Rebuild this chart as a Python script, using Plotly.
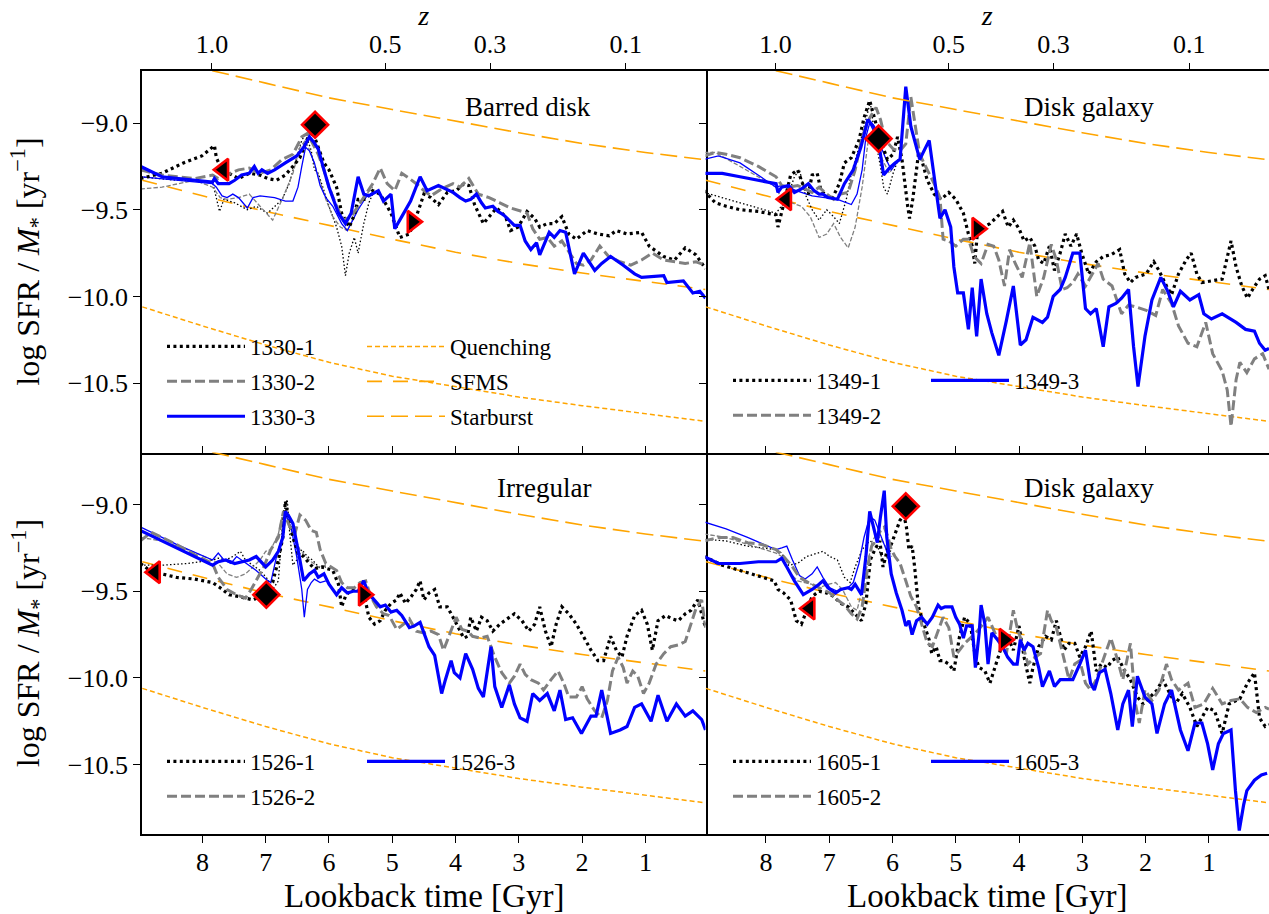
import plotly.graph_objects as go

# ---------------- reference relations: (lookback time [Gyr], log sSFR) ----------------
starburst_pts = [(8.95, -8.60), (8.0, -8.685), (7.0, -8.77), (6.0, -8.855), (5.0, -8.922), (4.0, -8.99),
                 (3.0, -9.056), (2.0, -9.118), (1.0, -9.17), (0.05, -9.212)]
sfms_pts = [(8.95, -9.33), (8.0, -9.42), (7.0, -9.51), (6.0, -9.59), (5.0, -9.67), (4.0, -9.745),
            (3.0, -9.81), (2.0, -9.865), (1.0, -9.912), (0.05, -9.96)]
quench_pts = [(8.95, -10.06), (8.0, -10.17), (7.0, -10.28), (6.0, -10.38), (5.0, -10.46), (4.0, -10.52),
              (3.0, -10.58), (2.0, -10.63), (1.0, -10.675), (0.05, -10.72)]

# ---------------- galaxy 1330 (Barred disk) ----------------
g1330_1 = [(8.98,-9.32),(8.64,-9.29),(8.30,-9.23),(8.01,-9.19),(7.81,-9.13),(7.78,-9.20),(7.72,-9.25),(7.58,-9.29),(7.43,-9.32),(7.26,-9.29),(7.09,-9.30),(6.97,-9.32),(6.83,-9.33),(6.69,-9.30),(6.57,-9.25),(6.46,-9.20),(6.34,-9.09),(6.26,-9.05),(6.17,-9.14),(6.08,-9.23),(6.00,-9.27),(5.88,-9.37),(5.80,-9.52),(5.68,-9.60),(5.60,-9.53),(5.54,-9.44),(5.42,-9.44),(5.31,-9.39),(5.19,-9.41),(5.14,-9.44),(5.02,-9.52),(4.88,-9.66),(4.73,-9.64),(4.62,-9.54),(4.50,-9.41),(4.39,-9.43),(4.27,-9.47),(4.13,-9.40),(3.99,-9.39),(3.87,-9.35),(3.79,-9.36),(3.70,-9.47),(3.56,-9.58),(3.47,-9.54),(3.35,-9.49),(3.21,-9.54),(3.13,-9.62),(3.01,-9.60),(2.87,-9.51),(2.75,-9.55),(2.67,-9.60),(2.55,-9.58),(2.44,-9.58),(2.32,-9.54),(2.21,-9.64),(2.09,-9.67),(1.92,-9.62),(1.75,-9.64),(1.57,-9.65),(1.46,-9.62),(1.29,-9.64),(1.06,-9.63),(0.94,-9.71),(0.71,-9.77),(0.54,-9.79),(0.37,-9.72),(0.20,-9.76),(0.05,-9.84)]
g1330_2 = [(8.98,-9.27),(8.64,-9.30),(8.12,-9.32),(7.84,-9.30),(7.75,-9.32),(7.61,-9.30),(7.43,-9.27),(7.26,-9.26),(7.09,-9.29),(6.92,-9.27),(6.74,-9.21),(6.57,-9.18),(6.43,-9.08),(6.34,-9.06),(6.26,-9.12),(6.17,-9.18),(6.08,-9.27),(6.00,-9.37),(5.88,-9.48),(5.77,-9.56),(5.65,-9.54),(5.54,-9.48),(5.42,-9.41),(5.31,-9.35),(5.19,-9.26),(5.08,-9.35),(4.96,-9.39),(4.85,-9.29),(4.73,-9.32),(4.62,-9.35),(4.50,-9.39),(4.39,-9.42),(4.22,-9.38),(4.04,-9.35),(3.93,-9.37),(3.79,-9.32),(3.64,-9.41),(3.47,-9.43),(3.30,-9.46),(3.13,-9.49),(2.95,-9.51),(2.87,-9.52),(2.78,-9.61),(2.67,-9.67),(2.55,-9.66),(2.44,-9.71),(2.32,-9.68),(2.21,-9.74),(2.09,-9.81),(1.98,-9.82),(1.86,-9.79),(1.72,-9.71),(1.58,-9.77),(1.40,-9.80),(1.23,-9.82),(1.06,-9.79),(0.89,-9.75),(0.71,-9.79),(0.54,-9.80),(0.37,-9.81),(0.20,-9.80),(0.05,-9.82)]
g1330_3 = [(8.98,-9.25),(8.64,-9.31),(7.84,-9.34),(7.81,-9.32),(7.75,-9.35),(7.58,-9.35),(7.49,-9.33),(7.38,-9.30),(7.26,-9.29),(7.18,-9.25),(7.12,-9.29),(7.06,-9.27),(6.97,-9.29),(6.86,-9.27),(6.69,-9.23),(6.51,-9.19),(6.40,-9.14),(6.31,-9.08),(6.24,-9.11),(6.17,-9.15),(6.08,-9.27),(6.00,-9.37),(5.85,-9.52),(5.74,-9.58),(5.65,-9.52),(5.54,-9.31),(5.45,-9.41),(5.37,-9.42),(5.22,-9.39),(5.14,-9.45),(5.02,-9.41),(4.96,-9.61),(4.85,-9.54),(4.71,-9.45),(4.56,-9.31),(4.45,-9.39),(4.27,-9.36),(4.16,-9.38),(4.04,-9.40),(3.93,-9.43),(3.84,-9.45),(3.76,-9.44),(3.67,-9.41),(3.59,-9.46),(3.53,-9.49),(3.41,-9.48),(3.33,-9.51),(3.24,-9.53),(3.15,-9.56),(3.07,-9.59),(2.98,-9.59),(2.90,-9.68),(2.81,-9.73),(2.72,-9.69),(2.67,-9.76),(2.52,-9.63),(2.44,-9.66),(2.35,-9.62),(2.26,-9.63),(2.12,-9.87),(1.98,-9.75),(1.80,-9.85),(1.69,-9.81),(1.55,-9.77),(1.35,-9.82),(1.17,-9.87),(1.06,-9.89),(0.71,-9.88),(0.66,-9.92),(0.40,-9.91),(0.25,-9.98),(0.14,-9.97),(0.05,-10.01)]
g1330_1_hr = [(8.98,-9.31),(8.41,-9.33),(7.84,-9.34),(7.78,-9.44),(7.73,-9.51),(7.66,-9.44),(7.49,-9.46),(7.29,-9.50),(7.15,-9.48),(6.97,-9.52),(6.86,-9.48),(6.74,-9.44),(6.63,-9.35),(6.51,-9.20),(6.43,-9.10),(6.37,-9.06),(6.28,-9.16),(6.23,-9.27),(6.17,-9.29),(6.08,-9.39),(6.00,-9.48),(5.88,-9.60),(5.80,-9.71),(5.74,-9.88),(5.68,-9.75),(5.60,-9.66),(5.54,-9.75),(5.45,-9.58),(5.37,-9.46),(5.31,-9.41)]
g1330_2_hr = [(8.98,-9.38),(8.64,-9.37),(8.12,-9.33),(7.84,-9.37),(7.72,-9.43),(7.61,-9.44),(7.43,-9.43),(7.26,-9.41),(7.09,-9.48),(6.89,-9.56),(6.74,-9.44),(6.57,-9.29),(6.46,-9.14),(6.37,-9.10),(6.28,-9.18),(6.17,-9.31),(6.05,-9.44),(5.94,-9.54),(5.82,-9.60),(5.71,-9.62),(5.60,-9.54),(5.48,-9.44),(5.31,-9.37)]
g1330_3_hr = [(8.98,-9.31),(8.41,-9.33),(7.84,-9.35),(7.78,-9.37),(7.69,-9.42),(7.61,-9.43),(7.52,-9.41),(7.43,-9.43),(7.29,-9.49),(7.20,-9.43),(7.09,-9.42),(6.86,-9.43),(6.69,-9.45),(6.57,-9.45),(6.49,-9.37),(6.43,-9.25),(6.37,-9.14),(6.31,-9.16),(6.23,-9.23),(6.14,-9.36),(6.05,-9.43),(5.94,-9.48),(5.80,-9.58),(5.71,-9.62),(5.65,-9.58),(5.54,-9.50),(5.42,-9.43),(5.31,-9.40)]
events_1330 = [(7.67, -9.27), (6.22, -9.01), (4.68, -9.57)]

# ---------------- galaxy 1349 (Disk galaxy) ----------------
g1349_1 = [(8.98,-9.39),(8.80,-9.46),(8.63,-9.48),(8.41,-9.50),(8.12,-9.51),(7.84,-9.53),(7.81,-9.60),(7.75,-9.52),(7.70,-9.44),(7.61,-9.30),(7.50,-9.27),(7.41,-9.36),(7.33,-9.41),(7.27,-9.30),(7.19,-9.29),(7.13,-9.39),(7.04,-9.42),(6.96,-9.44),(6.84,-9.35),(6.76,-9.23),(6.65,-9.20),(6.53,-9.10),(6.45,-8.97),(6.36,-8.87),(6.28,-8.98),(6.19,-9.10),(6.08,-9.21),(5.99,-9.18),(5.92,-9.08),(5.85,-9.21),(5.76,-9.48),(5.73,-9.55),(5.68,-9.44),(5.59,-9.18),(5.54,-9.21),(5.45,-9.33),(5.34,-9.41),(5.23,-9.44),(5.11,-9.40),(5.00,-9.44),(4.88,-9.52),(4.80,-9.64),(4.74,-9.71),(4.70,-9.81),(4.66,-9.64),(4.57,-9.60),(4.46,-9.58),(4.37,-9.55),(4.26,-9.51),(4.17,-9.60),(4.09,-9.56),(4.00,-9.61),(3.92,-9.68),(3.83,-9.66),(3.75,-9.71),(3.69,-9.79),(3.61,-9.81),(3.52,-9.71),(3.44,-9.85),(3.35,-9.75),(3.27,-9.64),(3.18,-9.71),(3.09,-9.64),(3.01,-9.75),(2.90,-9.87),(2.78,-9.80),(2.67,-9.77),(2.55,-9.76),(2.41,-9.73),(2.33,-9.87),(2.24,-9.92),(2.16,-9.89),(1.99,-9.87),(1.87,-9.80),(1.79,-9.85),(1.67,-9.94),(1.59,-9.99),(1.48,-9.87),(1.36,-9.79),(1.28,-9.75),(1.19,-9.87),(1.11,-9.92),(0.96,-9.91),(0.79,-9.90),(0.65,-9.68),(0.57,-9.83),(0.48,-9.94),(0.39,-10.01),(0.31,-9.96),(0.20,-9.90),(0.11,-9.88),(0.05,-9.96)]
g1349_2 = [(8.98,-9.19),(8.80,-9.17),(8.63,-9.18),(8.41,-9.20),(8.12,-9.25),(7.84,-9.31),(7.75,-9.36),(7.64,-9.37),(7.50,-9.36),(7.38,-9.38),(7.27,-9.40),(7.16,-9.37),(7.04,-9.41),(6.93,-9.44),(6.82,-9.41),(6.70,-9.40),(6.59,-9.27),(6.48,-9.08),(6.36,-8.97),(6.26,-8.91),(6.19,-8.98),(6.11,-9.10),(5.99,-9.15),(5.88,-9.16),(5.79,-9.12),(5.71,-8.85),(5.65,-9.00),(5.57,-9.18),(5.45,-9.27),(5.34,-9.35),(5.25,-9.43),(5.20,-9.67),(5.11,-9.68),(5.00,-9.71),(4.88,-9.67),(4.80,-9.67),(4.71,-9.77),(4.60,-9.81),(4.49,-9.70),(4.40,-9.71),(4.32,-9.79),(4.23,-9.94),(4.15,-9.73),(4.06,-9.81),(3.95,-9.89),(3.83,-9.69),(3.72,-10.00),(3.61,-9.89),(3.49,-9.70),(3.41,-9.79),(3.32,-9.96),(3.24,-9.95),(3.15,-9.92),(3.07,-9.87),(2.95,-9.94),(2.84,-9.87),(2.75,-9.81),(2.67,-9.90),(2.53,-9.94),(2.38,-10.10),(2.27,-10.05),(2.16,-10.06),(1.99,-10.08),(1.84,-10.11),(1.73,-9.96),(1.59,-10.04),(1.48,-10.17),(1.33,-10.27),(1.19,-10.29),(1.05,-10.15),(0.94,-10.33),(0.79,-10.43),(0.71,-10.54),(0.65,-10.75),(0.57,-10.48),(0.51,-10.38),(0.40,-10.44),(0.28,-10.36),(0.15,-10.33),(0.05,-10.42)]
g1349_3 = [(8.98,-9.29),(8.69,-9.29),(8.41,-9.31),(8.12,-9.33),(7.84,-9.35),(7.81,-9.40),(7.75,-9.37),(7.64,-9.36),(7.55,-9.40),(7.44,-9.38),(7.33,-9.35),(7.24,-9.39),(7.16,-9.41),(7.10,-9.41),(7.02,-9.43),(6.87,-9.44),(6.76,-9.35),(6.62,-9.27),(6.50,-9.14),(6.39,-8.98),(6.30,-9.02),(6.22,-9.11),(6.14,-9.30),(6.05,-9.26),(5.96,-9.23),(5.88,-9.21),(5.79,-8.79),(5.71,-9.02),(5.65,-9.10),(5.57,-9.21),(5.42,-9.10),(5.34,-9.31),(5.25,-9.55),(5.17,-9.50),(5.08,-9.60),(5.03,-9.83),(4.97,-9.98),(4.88,-9.98),(4.80,-10.19),(4.74,-9.95),(4.67,-10.23),(4.60,-9.90),(4.51,-10.10),(4.43,-10.21),(4.32,-10.34),(4.20,-10.14),(4.09,-9.94),(3.98,-10.28),(3.89,-10.25),(3.78,-10.12),(3.63,-10.15),(3.55,-10.12),(3.46,-10.00),(3.35,-9.96),(3.27,-9.89),(3.15,-9.75),(3.04,-9.75),(2.95,-10.07),(2.87,-10.10),(2.78,-10.07),(2.67,-10.29),(2.58,-10.06),(2.47,-10.04),(2.38,-10.01),(2.27,-9.96),(2.19,-10.29),(2.12,-10.52),(2.01,-10.23),(1.90,-10.02),(1.76,-9.89),(1.65,-9.97),(1.56,-10.06),(1.45,-9.97),(1.30,-10.02),(1.16,-9.99),(1.08,-10.10),(0.96,-10.13),(0.79,-10.10),(0.57,-10.15),(0.42,-10.19),(0.28,-10.20),(0.20,-10.27),(0.11,-10.31),(0.05,-10.30)]
g1349_1_hr = [(8.98,-9.40),(8.41,-9.46),(7.84,-9.52),(7.67,-9.44),(7.55,-9.31),(7.47,-9.27),(7.38,-9.41),(7.27,-9.50),(7.16,-9.56),(7.04,-9.50),(6.93,-9.54),(6.84,-9.58),(6.73,-9.44),(6.65,-9.29),(6.53,-9.14),(6.42,-8.98),(6.35,-8.88),(6.28,-9.08),(6.19,-9.25),(6.14,-9.37),(6.08,-9.41),(5.99,-9.29),(5.91,-9.21)]
g1349_2_hr = [(8.98,-9.17),(8.80,-9.17),(8.41,-9.25),(7.84,-9.37),(7.75,-9.44),(7.61,-9.46),(7.44,-9.48),(7.30,-9.54),(7.16,-9.66),(7.04,-9.64),(6.93,-9.58),(6.82,-9.66),(6.70,-9.72),(6.59,-9.60),(6.48,-9.37),(6.39,-9.12),(6.33,-9.06),(6.25,-9.10),(6.16,-9.21),(6.05,-9.29),(5.91,-9.21)]
g1349_3_hr = [(8.98,-9.21),(8.75,-9.19),(8.41,-9.23),(7.84,-9.37),(7.75,-9.36),(7.61,-9.38),(7.44,-9.40),(7.27,-9.42),(7.10,-9.43),(6.87,-9.44),(6.65,-9.47),(6.56,-9.41),(6.48,-9.27),(6.42,-9.08),(6.36,-9.00),(6.28,-9.06),(6.19,-9.13),(6.10,-9.21),(6.02,-9.27),(5.91,-9.22)]
events_1349 = [(7.68, -9.44), (6.22, -9.09), (4.66, -9.61)]

# ---------------- galaxy 1526 (Irregular) ----------------
g1526_1 = [(8.98,-9.34),(8.87,-9.37),(8.64,-9.40),(8.41,-9.42),(8.12,-9.43),(7.84,-9.45),(7.72,-9.48),(7.58,-9.52),(7.43,-9.53),(7.32,-9.54),(7.20,-9.55),(7.09,-9.53),(6.97,-9.49),(6.89,-9.45),(6.80,-9.32),(6.73,-9.19),(6.69,-8.98),(6.63,-9.10),(6.57,-9.19),(6.49,-9.28),(6.40,-9.30),(6.31,-9.34),(6.23,-9.37),(6.11,-9.36),(6.03,-9.37),(5.94,-9.38),(5.85,-9.46),(5.80,-9.59),(5.74,-9.53),(5.65,-9.49),(5.54,-9.49),(5.45,-9.51),(5.37,-9.65),(5.28,-9.69),(5.19,-9.67),(5.11,-9.61),(5.02,-9.57),(4.93,-9.55),(4.88,-9.51),(4.79,-9.57),(4.70,-9.53),(4.62,-9.49),(4.56,-9.44),(4.50,-9.55),(4.42,-9.51),(4.33,-9.49),(4.25,-9.59),(4.13,-9.59),(4.04,-9.65),(3.96,-9.71),(3.87,-9.77),(3.81,-9.76),(3.76,-9.65),(3.67,-9.73),(3.59,-9.65),(3.50,-9.67),(3.41,-9.73),(3.30,-9.69),(3.18,-9.66),(3.07,-9.63),(2.95,-9.67),(2.84,-9.73),(2.75,-9.69),(2.67,-9.59),(2.58,-9.73),(2.49,-9.82),(2.41,-9.69),(2.32,-9.59),(2.21,-9.63),(2.09,-9.69),(1.98,-9.76),(1.86,-9.84),(1.75,-9.90),(1.66,-9.90),(1.55,-9.76),(1.46,-9.84),(1.37,-9.88),(1.29,-9.76),(1.17,-9.64),(1.06,-9.61),(0.97,-9.69),(0.89,-9.84),(0.80,-9.67),(0.68,-9.64),(0.57,-9.66),(0.48,-9.67),(0.37,-9.63),(0.28,-9.61),(0.17,-9.55),(0.05,-9.71)]
g1526_2 = [(8.98,-9.21),(8.81,-9.16),(8.64,-9.19),(8.41,-9.23),(8.12,-9.29),(7.84,-9.34),(7.75,-9.42),(7.61,-9.49),(7.46,-9.52),(7.32,-9.54),(7.23,-9.49),(7.15,-9.44),(7.03,-9.36),(6.92,-9.26),(6.80,-9.19),(6.72,-9.04),(6.63,-9.12),(6.54,-9.17),(6.46,-9.06),(6.37,-9.09),(6.28,-9.15),(6.20,-9.16),(6.14,-9.26),(6.05,-9.34),(5.97,-9.36),(5.88,-9.38),(5.80,-9.45),(5.71,-9.48),(5.60,-9.48),(5.51,-9.45),(5.42,-9.44),(5.34,-9.53),(5.25,-9.59),(5.14,-9.63),(5.05,-9.64),(4.93,-9.72),(4.82,-9.69),(4.73,-9.66),(4.62,-9.73),(4.50,-9.74),(4.39,-9.73),(4.27,-9.75),(4.19,-9.84),(4.07,-9.73),(3.99,-9.65),(3.90,-9.72),(3.81,-9.73),(3.73,-9.76),(3.61,-9.77),(3.50,-9.76),(3.38,-9.88),(3.27,-9.97),(3.15,-10.03),(3.07,-9.99),(2.98,-9.92),(2.90,-9.98),(2.81,-10.01),(2.69,-10.03),(2.61,-10.07),(2.49,-10.01),(2.38,-9.96),(2.29,-10.03),(2.21,-10.11),(2.09,-10.11),(2.00,-10.05),(1.92,-10.12),(1.80,-10.19),(1.69,-10.23),(1.60,-10.13),(1.52,-9.96),(1.43,-9.88),(1.35,-9.94),(1.29,-10.03),(1.20,-9.96),(1.12,-9.99),(1.03,-10.09),(0.94,-10.03),(0.83,-9.92),(0.71,-9.86),(0.60,-9.82),(0.48,-9.81),(0.37,-9.79),(0.28,-9.69),(0.20,-9.60),(0.11,-9.55),(0.05,-9.71)]
g1526_3 = [(8.98,-9.15),(8.41,-9.25),(7.84,-9.35),(7.75,-9.33),(7.63,-9.32),(7.49,-9.34),(7.38,-9.33),(7.26,-9.32),(7.15,-9.30),(7.00,-9.36),(6.89,-9.32),(6.80,-9.27),(6.73,-9.19),(6.69,-9.04),(6.63,-9.07),(6.57,-9.11),(6.49,-9.26),(6.40,-9.44),(6.31,-9.40),(6.23,-9.38),(6.17,-9.42),(6.08,-9.40),(6.00,-9.46),(5.88,-9.52),(5.80,-9.48),(5.71,-9.51),(5.62,-9.50),(5.54,-9.50),(5.45,-9.44),(5.39,-9.50),(5.31,-9.54),(5.19,-9.59),(5.11,-9.58),(5.02,-9.62),(4.93,-9.61),(4.85,-9.64),(4.73,-9.71),(4.65,-9.70),(4.56,-9.68),(4.50,-9.74),(4.42,-9.82),(4.33,-9.87),(4.22,-10.09),(4.16,-10.01),(4.07,-9.90),(4.02,-9.97),(3.93,-10.00),(3.84,-9.86),(3.73,-9.95),(3.64,-10.06),(3.56,-10.11),(3.44,-9.82),(3.38,-10.05),(3.27,-10.17),(3.15,-10.04),(3.07,-10.15),(2.98,-10.23),(2.87,-10.25),(2.78,-10.09),(2.67,-10.13),(2.55,-10.09),(2.44,-10.19),(2.35,-10.07),(2.26,-10.24),(2.15,-10.23),(2.01,-10.32),(1.86,-10.22),(1.78,-10.22),(1.69,-10.07),(1.55,-10.32),(1.40,-10.30),(1.29,-10.28),(1.17,-10.17),(1.06,-10.15),(0.91,-10.25),(0.80,-10.10),(0.66,-10.25),(0.51,-10.15),(0.37,-10.22),(0.25,-10.19),(0.11,-10.24),(0.05,-10.30)]
g1526_1_hr = [(8.98,-9.35),(8.64,-9.35),(8.24,-9.34),(7.84,-9.32),(7.75,-9.31),(7.63,-9.32),(7.52,-9.30),(7.40,-9.27),(7.32,-9.32),(7.20,-9.35),(7.09,-9.38),(6.97,-9.43),(6.89,-9.49),(6.80,-9.44),(6.72,-9.05),(6.66,-8.97),(6.62,-9.17),(6.57,-9.35),(6.51,-9.32),(6.43,-9.26),(6.34,-9.30),(6.26,-9.32),(6.14,-9.37),(6.05,-9.36)]
g1526_2_hr = [(8.98,-9.19),(8.64,-9.21),(8.24,-9.26),(7.84,-9.32),(7.75,-9.34),(7.61,-9.40),(7.46,-9.42),(7.32,-9.40),(7.20,-9.36),(7.09,-9.32),(7.00,-9.27),(6.92,-9.26),(6.80,-9.17),(6.72,-9.03),(6.63,-9.11),(6.54,-9.19),(6.46,-9.26),(6.37,-9.30),(6.28,-9.33),(6.17,-9.36),(6.05,-9.35)]
g1526_3_hr = [(8.98,-9.13),(8.41,-9.23),(7.84,-9.32),(7.75,-9.28),(7.66,-9.32),(7.55,-9.34),(7.46,-9.30),(7.38,-9.32),(7.26,-9.35),(7.15,-9.38),(7.00,-9.43),(6.92,-9.45),(6.83,-9.30),(6.74,-9.19),(6.69,-9.05),(6.60,-9.13),(6.51,-9.30),(6.43,-9.49),(6.39,-9.65),(6.34,-9.49),(6.28,-9.45),(6.23,-9.43),(6.14,-9.45),(6.05,-9.44)]
events_1526 = [(8.75, -9.39), (6.99, -9.52), (5.45, -9.52)]

# ---------------- galaxy 1605 (Disk galaxy) ----------------
g1605_1 = [(8.98,-9.30),(8.69,-9.35),(8.41,-9.38),(8.12,-9.41),(7.87,-9.44),(7.81,-9.49),(7.72,-9.51),(7.61,-9.55),(7.52,-9.67),(7.44,-9.69),(7.36,-9.61),(7.27,-9.53),(7.16,-9.50),(7.04,-9.51),(6.93,-9.53),(6.82,-9.57),(6.70,-9.59),(6.59,-9.63),(6.49,-9.67),(6.42,-9.57),(6.35,-9.32),(6.28,-9.26),(6.20,-9.21),(6.15,-9.36),(6.08,-9.26),(6.02,-9.23),(5.94,-9.15),(5.88,-9.09),(5.82,-9.06),(5.78,-9.13),(5.74,-9.26),(5.69,-9.24),(5.65,-9.36),(5.59,-9.59),(5.54,-9.65),(5.48,-9.71),(5.42,-9.78),(5.38,-9.86),(5.31,-9.82),(5.25,-9.90),(5.20,-9.90),(5.11,-9.92),(5.03,-9.96),(4.94,-9.76),(4.86,-9.65),(4.77,-9.69),(4.69,-9.88),(4.63,-9.94),(4.54,-9.96),(4.46,-10.03),(4.37,-9.92),(4.26,-9.80),(4.18,-9.76),(4.09,-9.84),(4.00,-9.70),(3.92,-9.88),(3.83,-10.03),(3.78,-9.94),(3.69,-9.82),(3.58,-9.76),(3.49,-9.78),(3.41,-9.67),(3.29,-9.84),(3.21,-9.80),(3.12,-9.80),(3.04,-9.88),(2.95,-9.82),(2.86,-9.73),(2.78,-9.96),(2.70,-9.92),(2.61,-9.94),(2.53,-9.90),(2.44,-9.88),(2.33,-9.96),(2.24,-10.01),(2.13,-10.11),(2.04,-10.15),(1.93,-10.11),(1.82,-10.07),(1.73,-10.01),(1.65,-10.07),(1.53,-10.15),(1.42,-10.09),(1.30,-10.17),(1.19,-10.28),(1.11,-10.23),(1.02,-10.17),(0.91,-10.19),(0.79,-10.32),(0.68,-10.15),(0.51,-10.12),(0.39,-10.03),(0.28,-9.97),(0.20,-10.23),(0.11,-10.28),(0.05,-10.27)]
g1605_2 = [(8.98,-9.21),(8.75,-9.19),(8.52,-9.19),(8.29,-9.22),(8.07,-9.23),(7.84,-9.26),(7.72,-9.30),(7.58,-9.36),(7.47,-9.42),(7.33,-9.45),(7.16,-9.48),(6.99,-9.51),(6.87,-9.55),(6.76,-9.58),(6.65,-9.63),(6.56,-9.66),(6.48,-9.59),(6.39,-9.36),(6.33,-9.24),(6.26,-9.21),(6.19,-9.15),(6.13,-9.13),(6.07,-9.19),(6.02,-9.26),(5.96,-9.30),(5.88,-9.34),(5.79,-9.44),(5.71,-9.53),(5.62,-9.59),(5.54,-9.69),(5.45,-9.80),(5.37,-9.82),(5.28,-9.73),(5.20,-9.65),(5.11,-9.71),(5.03,-9.88),(4.94,-9.84),(4.86,-9.80),(4.74,-9.76),(4.66,-9.73),(4.57,-9.69),(4.49,-9.65),(4.37,-9.75),(4.29,-9.80),(4.20,-9.86),(4.09,-9.61),(4.03,-9.71),(3.95,-9.80),(3.86,-9.92),(3.75,-9.88),(3.66,-9.86),(3.55,-9.61),(3.49,-9.67),(3.41,-9.71),(3.29,-9.88),(3.21,-10.01),(3.12,-9.92),(3.04,-9.90),(2.95,-10.03),(2.87,-10.07),(2.78,-10.01),(2.67,-9.90),(2.55,-9.77),(2.44,-9.90),(2.36,-10.01),(2.24,-9.80),(2.16,-10.15),(2.10,-10.26),(2.01,-10.07),(1.90,-10.13),(1.79,-10.07),(1.67,-9.92),(1.59,-10.01),(1.48,-10.07),(1.33,-10.03),(1.22,-10.17),(1.08,-10.15),(0.94,-10.06),(0.79,-10.15),(0.65,-10.13),(0.51,-10.12),(0.39,-10.17),(0.25,-10.20),(0.11,-10.17),(0.05,-10.18)]
g1605_3 = [(8.98,-9.30),(8.75,-9.34),(8.41,-9.34),(8.12,-9.33),(7.84,-9.33),(7.75,-9.31),(7.67,-9.36),(7.55,-9.44),(7.41,-9.52),(7.27,-9.49),(7.16,-9.46),(7.10,-9.44),(7.02,-9.48),(6.90,-9.51),(6.82,-9.49),(6.70,-9.48),(6.65,-9.49),(6.59,-9.46),(6.49,-9.52),(6.42,-9.30),(6.36,-9.04),(6.30,-9.13),(6.24,-9.22),(6.19,-9.07),(6.13,-8.92),(6.09,-9.19),(6.02,-9.40),(5.94,-9.51),(5.85,-9.61),(5.79,-9.70),(5.74,-9.67),(5.69,-9.75),(5.62,-9.67),(5.54,-9.65),(5.45,-9.69),(5.37,-9.65),(5.28,-9.58),(5.23,-9.60),(5.17,-9.59),(5.06,-9.59),(5.00,-9.65),(4.94,-9.69),(4.88,-9.77),(4.83,-9.70),(4.74,-9.70),(4.69,-9.94),(4.63,-9.74),(4.60,-9.58),(4.54,-9.69),(4.49,-9.92),(4.43,-9.74),(4.34,-9.78),(4.26,-9.82),(4.18,-9.88),(4.09,-9.92),(4.03,-9.92),(3.98,-9.78),(3.92,-9.84),(3.86,-9.80),(3.78,-9.82),(3.69,-9.94),(3.63,-10.05),(3.52,-9.96),(3.44,-10.05),(3.35,-10.01),(3.24,-10.01),(3.15,-10.01),(3.04,-9.92),(2.95,-9.84),(2.87,-10.03),(2.81,-10.07),(2.73,-9.97),(2.64,-9.95),(2.55,-10.09),(2.44,-10.30),(2.36,-10.15),(2.27,-10.07),(2.21,-10.28),(2.13,-9.99),(2.01,-10.11),(1.90,-10.15),(1.82,-10.32),(1.70,-10.15),(1.59,-10.07),(1.45,-10.30),(1.33,-10.42),(1.22,-10.26),(1.11,-10.26),(1.02,-10.38),(0.94,-10.53),(0.85,-10.38),(0.77,-10.32),(0.65,-10.30),(0.58,-10.65),(0.52,-10.88),(0.45,-10.73),(0.40,-10.65),(0.28,-10.59),(0.17,-10.56),(0.08,-10.55)]
g1605_1_hr = [(8.98,-9.20),(8.63,-9.21),(8.29,-9.24),(7.84,-9.26),(7.75,-9.28),(7.64,-9.35),(7.50,-9.34),(7.36,-9.30),(7.27,-9.29),(7.10,-9.27),(6.99,-9.30),(6.87,-9.32),(6.76,-9.42),(6.67,-9.45),(6.59,-9.36),(6.48,-9.26),(6.36,-9.21),(6.25,-9.23),(6.13,-9.34),(6.02,-9.26)]
g1605_2_hr = [(8.98,-9.17),(8.63,-9.19),(8.29,-9.23),(7.84,-9.28),(7.75,-9.30),(7.61,-9.40),(7.50,-9.44),(7.38,-9.45),(7.27,-9.46),(7.16,-9.48),(7.02,-9.46),(6.90,-9.45),(6.79,-9.49),(6.65,-9.59),(6.56,-9.61),(6.48,-9.49),(6.39,-9.32),(6.32,-9.21),(6.25,-9.17),(6.16,-9.21),(6.08,-9.26),(6.01,-9.30)]
g1605_3_hr = [(8.98,-9.10),(8.63,-9.14),(8.29,-9.19),(7.84,-9.26),(7.75,-9.25),(7.67,-9.24),(7.58,-9.32),(7.47,-9.41),(7.38,-9.43),(7.27,-9.40),(7.19,-9.36),(7.10,-9.42),(6.99,-9.48),(6.87,-9.50),(6.79,-9.49),(6.70,-9.48),(6.62,-9.45),(6.53,-9.34),(6.45,-9.19),(6.36,-9.07),(6.28,-9.09),(6.19,-9.17),(6.10,-9.26),(6.02,-9.38)]
events_1605 = [(7.31, -9.60), (5.79, -9.01), (4.23, -9.78)]

# ---------------- axes ticks ----------------
t_ticks = [1, 2, 3, 4, 5, 6, 7, 8]
y_ticks = [-10.5, -10.0, -9.5, -9.0]
z_labels = ["1.0", "0.5", "0.3", "0.1"]
z_lookback = [7.85, 5.11, 3.455, 1.31]   # lookback time of those redshifts
x_range = [8.955, 0.05]
y_range = [-10.9, -8.7]

FONT = "Liberation Serif"


def unzip(pairs):
    return [p[0] for p in pairs], [p[1] for p in pairs]


THICK = [dict(color="black", width=3.2, dash="3px,3.4px"),
         dict(color="gray", width=3.0, dash="10px,4px"),
         dict(color="blue", width=3.2, dash="solid")]
THIN = [dict(color="black", width=1.3, dash="1.5px,2.2px"),
        dict(color="gray", width=1.3, dash="4.5px,2px"),
        dict(color="blue", width=1.3, dash="solid")]
REF_STYLE = {"Quenching": dict(color="#FFA500", width=1.5, dash="5px,3px"),
             "SFMS": dict(color="#FFA500", width=1.6, dash="15px,11px"),
             "Starburst": dict(color="#FFA500", width=1.6, dash="17px,7px")}
EVENT_SYMBOLS = ["triangle-left", "diamond", "triangle-right"]
EVENT_SIZES = [19, 20, 19]

panels = [
    dict(gid="1330", title="Barred disk", xa="x", ya="y", thick=[g1330_1, g1330_2, g1330_3],
         thin=[g1330_1_hr, g1330_2_hr, g1330_3_hr], events=events_1330, legs=("legend", "legend2")),
    dict(gid="1349", title="Disk galaxy", xa="x2", ya="y2", thick=[g1349_1, g1349_2, g1349_3],
         thin=[g1349_1_hr, g1349_2_hr, g1349_3_hr], events=events_1349, legs=("legend3", "legend4")),
    dict(gid="1526", title="Irregular", xa="x3", ya="y3", thick=[g1526_1, g1526_2, g1526_3],
         thin=[g1526_1_hr, g1526_2_hr, g1526_3_hr], events=events_1526, legs=("legend5", "legend6")),
    dict(gid="1605", title="Disk galaxy", xa="x4", ya="y4", thick=[g1605_1, g1605_2, g1605_3],
         thin=[g1605_1_hr, g1605_2_hr, g1605_3_hr], events=events_1605, legs=("legend7", "legend8")),
]

# overlay axes used to draw the redshift axis (top row) and inner right ticks (left column)
top_overlay = {"x": "x5", "x2": "x6"}
right_overlay = {"y": "y5", "y3": "y6"}

fig = go.Figure()

for pi, p in enumerate(panels):
    xa, ya = p["xa"], p["ya"]
    for name, pts in (("Quenching", quench_pts), ("SFMS", sfms_pts), ("Starburst", starburst_pts)):
        t, v = unzip(pts)
        txa, tya = xa, ya
        if name == "Starburst" and xa in top_overlay:
            txa = top_overlay[xa]
        if name == "Quenching" and ya in right_overlay:
            tya = right_overlay[ya]
        fig.add_trace(go.Scatter(x=t, y=v, mode="lines", name=name, line=REF_STYLE[name],
                                 xaxis=txa, yaxis=tya, showlegend=(pi == 0), legend="legend2",
                                 legendgroup=f"ref{name}", hoverinfo="skip"))
    for k, pts in enumerate(p["thin"]):
        t, v = unzip(pts)
        fig.add_trace(go.Scatter(x=t, y=v, mode="lines", line=THIN[k], xaxis=xa, yaxis=ya,
                                 showlegend=False, hoverinfo="skip"))
    for k, pts in enumerate(p["thick"]):
        t, v = unzip(pts)
        name = f"{p['gid']}-{k + 1}"
        if pi == 0:
            leg = p["legs"][0]
        else:
            leg = p["legs"][0] if k < 2 else p["legs"][1]
        fig.add_trace(go.Scatter(x=t, y=v, mode="lines", name=name, line=THICK[k], xaxis=xa, yaxis=ya,
                                 legend=leg, legendgroup=name, showlegend=True))
    et, ev = unzip(p["events"])
    fig.add_trace(go.Scatter(x=et, y=ev, mode="markers", xaxis=xa, yaxis=ya, showlegend=False,
                             opacity=1, cliponaxis=False,
                             marker=dict(symbol=EVENT_SYMBOLS, size=EVENT_SIZES, color="#000000",
                                         opacity=1, line=dict(color="#FF0000", width=2.6))))
    fig.add_annotation(text=p["title"], xref=f"{xa} domain", yref=f"{ya} domain", x=0.8, y=0.906,
                       xanchor="right", yanchor="middle", showarrow=False, font=dict(size=27))

# axis titles as annotations (paper coordinates)
XT = "Lookback time [Gyr]"
YT = "log SFR / <i>M</i><sub>*</sub> [yr<sup>\u22121</sup>]"
for cx in (0.25, 0.75):
    fig.add_annotation(text=XT, xref="paper", yref="paper", x=cx, y=-0.0815, xanchor="center",
                       yanchor="middle", showarrow=False, font=dict(size=33))
for cy in (0.75, 0.25):
    fig.add_annotation(text=YT, xref="paper", yref="paper", x=-0.1012, y=cy, xanchor="center",
                       yanchor="middle", textangle=-90, showarrow=False, font=dict(size=32))

base = dict(showgrid=False, zeroline=False, linecolor="black", linewidth=1.6,
            tickcolor="black", tickwidth=1.3, ticklen=7)
xcommon = dict(range=x_range, tickvals=t_ticks, **base)
ycommon = dict(range=y_range, tickvals=y_ticks, tickformat=".1f", **base)

layout = dict(
    width=1269, height=914,
    margin=dict(l=142, r=0, t=71, b=80),
    paper_bgcolor="white", plot_bgcolor="white",
    font=dict(family=FONT, size=26, color="black"),
    showlegend=True,
    xaxis=dict(domain=[0, 0.5], anchor="y", ticks="inside", showticklabels=False,
               showline=True, mirror=True, **xcommon),
    xaxis2=dict(domain=[0.5, 1], anchor="y2", ticks="inside", showticklabels=False,
                showline=True, mirror=True, **xcommon),
    xaxis3=dict(domain=[0, 0.5], anchor="y3", ticks="outside", showline=True, mirror=False,
                ticklabelstandoff=-3, **xcommon),
    xaxis4=dict(domain=[0.5, 1], anchor="y4", ticks="outside", showline=True, mirror=False,
                ticklabelstandoff=-3, **xcommon),
    yaxis=dict(domain=[0.5, 1], anchor="x", ticks="outside", showline=True, mirror=True, **ycommon),
    yaxis2=dict(domain=[0.5, 1], anchor="x2", ticks="", showticklabels=False, showline=False, **ycommon),
    yaxis3=dict(domain=[0, 0.5], anchor="x3", ticks="outside", showline=True, mirror=True, **ycommon),
    yaxis4=dict(domain=[0, 0.5], anchor="x4", ticks="", showticklabels=False, showline=False, **ycommon),
)
zaxis = dict(range=x_range, side="top", tickvals=z_lookback, ticktext=z_labels, ticks="outside",
             ticklen=7, tickwidth=1.3, tickcolor="black", showline=False, showgrid=False, zeroline=False,
             title=dict(text="<i>z</i>", font=dict(size=28), standoff=2))
layout["xaxis5"] = dict(overlaying="x", anchor="y", **zaxis)
layout["xaxis6"] = dict(overlaying="x2", anchor="y2", **zaxis)
rin = dict(range=y_range, side="right", tickvals=y_ticks, ticks="inside", ticklen=7, tickwidth=1.3,
           tickcolor="black", showticklabels=False, showline=False, showgrid=False, zeroline=False)
layout["yaxis5"] = dict(overlaying="y", anchor="x", **rin)
layout["yaxis6"] = dict(overlaying="y3", anchor="x3", **rin)

# legends (two columns per panel), positions in paper fraction
W_PLOT, H_PLOT, L0, T0 = 1127.0, 763.0, 142.0, 71.0


def px_to_paper(px, py):
    return (px - L0) / W_PLOT, 1 - (py - T0) / H_PLOT


leg_anchor = {"legend": (162, 325), "legend2": (362, 325),
              "legend3": (728, 359), "legend4": (926, 359),
              "legend5": (162, 740), "legend6": (362, 740),
              "legend7": (728, 740), "legend8": (926, 740)}
for lname, (px, py) in leg_anchor.items():
    lx, ly = px_to_paper(px, py)
    layout[lname] = dict(x=lx, y=ly, xanchor="left", yanchor="top", bgcolor="rgba(0,0,0,0)",
                         font=dict(size=23, family=FONT), tracegroupgap=2, itemwidth=78,
                         orientation="v", borderwidth=0)

fig.update_layout(**layout)
fig.write_html("out.html")
